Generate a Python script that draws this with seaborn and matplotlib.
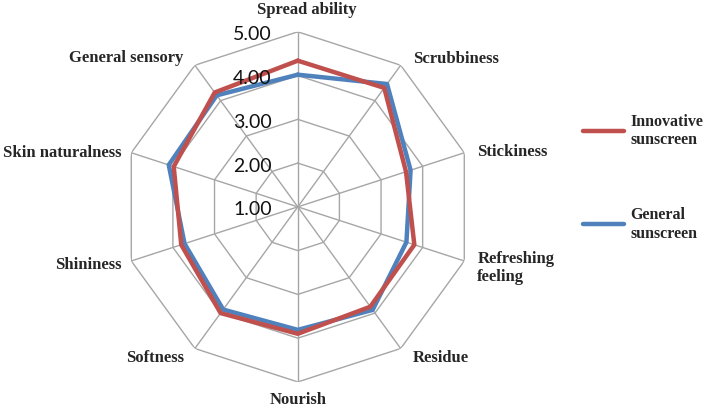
import numpy as np
import pandas as pd
import matplotlib
matplotlib.use("Agg")
import matplotlib.pyplot as plt
import seaborn as sns

# data (scale 1-5)
categories = ["Spread ability", "Scrubbiness", "Stickiness", "Refreshing\nfeeling",
              "Residue", "Nourish", "Softness", "Shininess", "Skin naturalness",
              "General sensory"]
innovative = [4.34, 4.36, 3.60, 3.80, 3.82, 3.90, 4.00, 3.80, 3.98, 4.23]
general = [4.02, 4.47, 3.71, 3.61, 3.91, 3.81, 3.90, 3.72, 4.10, 4.15]
tick_values = [1, 2, 3, 4, 5]

sns.set_style("white")
plt.rcParams["font.family"] = ["Lato", "DejaVu Sans"]

n = len(categories)
angles = np.linspace(0, 2 * np.pi, n, endpoint=False)
theta = np.append(angles, 2 * np.pi)

rows = []
for name, vals in [("General\nsunscreen", general), ("Innovative\nsunscreen", innovative)]:
    closed = list(vals) + [vals[0]]
    for t, v in zip(theta, closed):
        rows.append({"theta": t, "value": v, "product": name})
df = pd.DataFrame(rows)

fig = plt.figure(figsize=(7.09, 4.10), dpi=100)
ax = fig.add_axes([0.173, 0.066, 0.494, 0.854], projection="polar")
ax.set_theta_zero_location("N")
ax.set_theta_direction(-1)

# polygon grid
grid_col = "#a6a6a6"
for v in tick_values[1:]:
    ax.plot(theta, [v] * len(theta), color=grid_col, lw=1, zorder=0)
for a in angles:
    ax.plot([a, a], [1, 5], color=grid_col, lw=1, zorder=0)

sns.lineplot(data=df, x="theta", y="value", hue="product", sort=False,
             palette={"General\nsunscreen": "#4f81bd", "Innovative\nsunscreen": "#c0504d"},
             linewidth=3.2, ax=ax, estimator=None)

ax.set_ylim(1, 5)
ax.grid(False)
ax.spines["polar"].set_visible(False)
ax.set_xticks([])
ax.set_yticks([])
ax.set_xlabel("")
ax.set_ylabel("")

# radial tick labels along the top axis
for v in tick_values:
    ax.annotate(f"{v:.2f}", xy=(0, v), xytext=(-26, -2), textcoords="offset pixels",
                ha="right", va="center", fontsize=14, color="#111111")

# category labels (offsets in pixels from the outer vertex)
offsets = [(9, 23, "center"), (12, 7, "left"), (13, 2, "left"), (13, -6, "left"),
           (12, -8, "left"), (0, -17, "center"), (-11, -8, "right"), (-10, -3, "right"),
           (-10, 1, "right"), (-12, 8, "right")]
for a, lab, (dx, dy, ha) in zip(angles, categories, offsets):
    ax.annotate(lab, xy=(a, 5), xytext=(dx, dy), textcoords="offset pixels",
                ha=ha, va="center", fontsize=12, fontweight="bold",
                family="Liberation Serif", linespacing=1.2)

handles, labels = ax.get_legend_handles_labels()
leg = ax.legend(handles[::-1], labels[::-1], loc="center left",
                bbox_to_anchor=(0.806, 0.566), bbox_transform=fig.transFigure,
                frameon=False, handlelength=2.6, handletextpad=0.4, labelspacing=3.7,
                borderpad=0.2,
                prop={"family": "Liberation Serif", "weight": "bold", "size": 11.5})
for line in leg.get_lines():
    line.set_linewidth(3.2)

fig.savefig("out.png", dpi=100)
